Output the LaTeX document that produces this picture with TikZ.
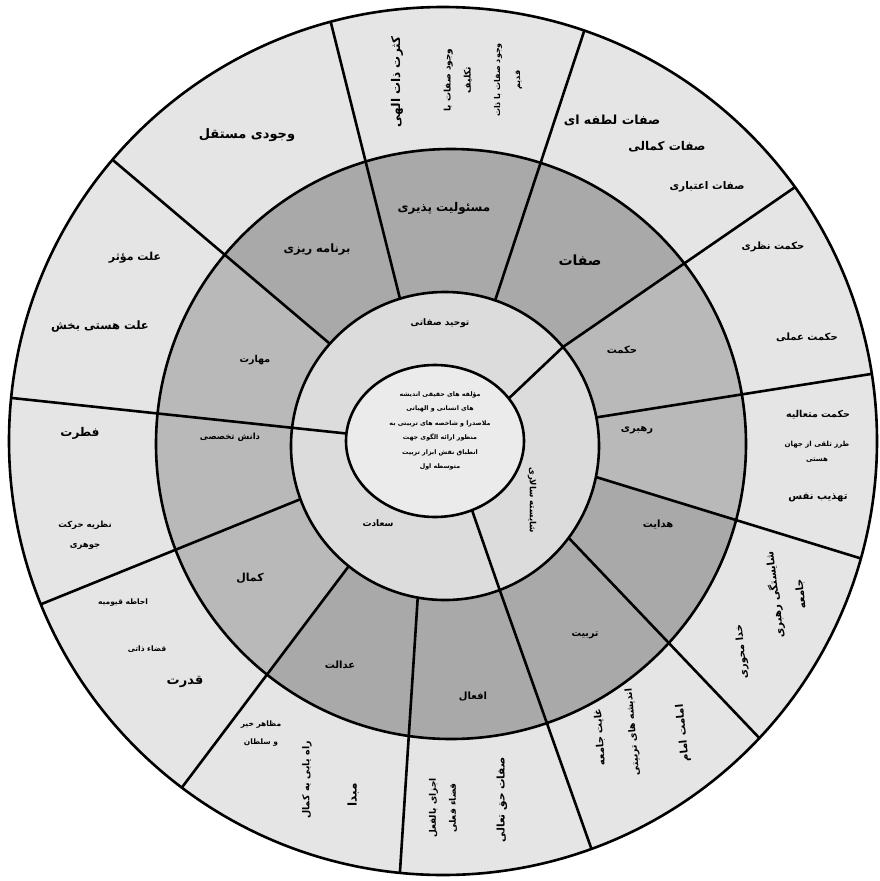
\documentclass[tikz,border=0pt]{standalone}
\usepackage{fontspec}
\usetikzlibrary{calc}
\TeXXeTstate=1
\newfontfamily\arabicfont[Script=Arabic]{DejaVu Sans}
\newcommand\fa[1]{\beginR #1\endR}
\definecolor{outerfill}{HTML}{E5E5E5}
\definecolor{middark}{HTML}{A9A9A9}
\definecolor{midlight}{HTML}{B9B9B9}
\definecolor{innerfill}{HTML}{DCDCDC}
\definecolor{centerfill}{HTML}{EBEBEB}
\begin{document}
\begin{tikzpicture}[x=1pt,y=1pt,
  bd/.style={draw=black,line width=2.6pt},
  lbl/.style 2 args={font=\arabicfont\bfseries\fontsize{#1}{#2}\selectfont,inner sep=0pt,align=center,text=black}]
\useasboundingbox (0,0) rectangle (879,-881);
\fill[white] (0,0) rectangle (879,-881);
\coordinate (C0) at (443,-441);
\coordinate (C1) at (451,-444);
\coordinate (C2) at (445,-446);
\coordinate (C3) at (435,-441);
\foreach \n/\ta/\tb in {a/107/105,b/71/71,c/40/35.8,d/10.7/8.9,e/-11.6/-15.7,f/-36.6/-43.2,g/-69.2/-70,h/-100.2/-95.7,i/-128.7/-127,j/-159.8/-157.9,k/173.2/174.3,l/138.4/139.6}{
  \coordinate (J\n) at ($(C2)+(\ta:154)$);
  \coordinate (O\n) at ($(C0)+(\tb:434)$);
}
% fills
\fill[outerfill] (C0) circle[radius=434];
\fill[middark] (C1) circle[radius=295];
\begin{scope}
  \clip (C1) circle[radius=295];
  \foreach \p/\q in {c/d,d/e,i/j,j/k,k/l}{
    \fill[midlight] (J\p) -- (O\p) -- (O\q) -- (J\q) -- cycle;
  }
\end{scope}
\fill[innerfill] (C2) circle[radius=154];
% circles and dividers
\draw[bd] (C0) circle[radius=434];
\draw[bd] (C1) circle[radius=295];
\draw[bd] (C2) circle[radius=154];
\foreach \n in {a,b,c,d,e,f,g,h,i,j,k,l}{\draw[bd] (J\n) -- (O\n);}
\coordinate (E1) at (505,-402);
\coordinate (E2) at (370,-436);
\coordinate (E3) at (465,-490);
\draw[bd] (Jc) -- (E1);
\draw[bd] (Jk) -- (E2);
\draw[bd] (Jg) -- (E3);
\fill[centerfill] (C3) ellipse[x radius=89,y radius=76];
\draw[bd] (C3) ellipse[x radius=89,y radius=76];
% centre text
\node[lbl={6.3}{14.5}] (core) at (440,-431) {\fa{مؤلفه های حقیقی اندیشه}\\\fa{های انسانی و الهیاتی}\\\fa{ملاصدرا و شاخصه های تربیتی به}\\\fa{منظور ارائه الگوی جهت}\\\fa{انطباق نقش ابزار تربیت}\\\fa{متوسطه اول}};
% inner ring
\node[lbl={9}{11}] (tw) at (440,-323) {\fa{توحید صفاتی}};
\node[lbl={9}{11}] (sa) at (378,-523) {\fa{سعادت}};
\node[lbl={8.5}{11},rotate=-90] (sh) at (532,-500) {\fa{شایسته سالاری}};
% middle ring
\node[lbl={12}{14}] (m1) at (444,-208) {\fa{مسئولیت پذیری}};
\node[lbl={14}{16}] (m2) at (580,-260) {\fa{صفات}};
\node[lbl={10}{12}] (m3) at (622,-350) {\fa{حکمت}};
\node[lbl={10}{12}] (m4) at (637,-430) {\fa{رهبری}};
\node[lbl={10}{12}] (m5) at (658,-525) {\fa{هدایت}};
\node[lbl={9.5}{12}] (m6) at (585,-635) {\fa{تربیت}};
\node[lbl={10}{12}] (m7) at (473,-697) {\fa{افعال}};
\node[lbl={10}{12}] (m8) at (340,-665) {\fa{عدالت}};
\node[lbl={11}{12}] (m9) at (250,-578) {\fa{کمال}};
\node[lbl={8.5}{12}] (m10) at (230,-437) {\fa{دانش تخصصی}};
\node[lbl={9.5}{12}] (m11) at (255,-360) {\fa{مهارت}};
\node[lbl={11.5}{14}] (m12) at (317,-250) {\fa{برنامه ریزی}};
% outer ring
\node[lbl={13}{15}] (o1) at (247,-135) {\fa{وجودی مستقل}};
\node[lbl={11}{13}] (o2) at (135,-258) {\fa{علت مؤثر}};
\node[lbl={11.5}{13}] (o3) at (100,-327) {\fa{علت هستی بخش}};
\node[lbl={12}{14}] (o4) at (80,-433) {\fa{فطرت}};
\node[lbl={8.5}{20}] (o5) at (85,-535) {\fa{نظریه حرکت}\\\fa{جوهری}};
\node[lbl={7.5}{10}] (o6) at (123,-603) {\fa{احاطه قیومیه}};
\node[lbl={7.5}{10}] (o7) at (147,-649) {\fa{قضاء ذاتی}};
\node[lbl={13}{15}] (o8) at (185,-682) {\fa{قدرت}};
\node[lbl={7.5}{18}] (o9) at (261,-734) {\fa{مظاهر خیر}\\\fa{و سلطان}};
\node[lbl={9.5}{12},rotate=90] (o10) at (307,-780) {\fa{راه یابی به کمال}};
\node[lbl={12}{14},rotate=90] (o11) at (353,-795) {\fa{مبدا}};
\node[lbl={9}{20},rotate=90] (o12) at (443,-808) {\fa{اجزای بالفعل}\\\fa{قضاء فعلی}};
\node[lbl={10.5}{12},rotate=90] (o13) at (502,-800) {\fa{صفات حق تعالی}};
\node[lbl={10}{12},rotate=94] (o14) at (600,-737) {\fa{غایت جامعه}};
\node[lbl={9.5}{12},rotate=95] (o15) at (633,-732) {\fa{اندیشه های تربیتی}};
\node[lbl={10.5}{12},rotate=96] (o16) at (683,-733) {\fa{امامت امام}};
\node[lbl={10}{12},rotate=96] (o17) at (742,-652) {\fa{خدا محوری}};
\node[lbl={10.5}{12},rotate=97] (o18) at (775,-595) {\fa{شایستگی رهبری}};
\node[lbl={10.5}{12},rotate=97] (o18b) at (801,-594) {\fa{جامعه}};
\node[lbl={9.5}{12}] (o19) at (818,-415) {\fa{حکمت متعالیه}};
\node[lbl={7}{15}] (o20) at (817,-452) {\fa{طرز تلقی از جهان}\\\fa{هستی}};
\node[lbl={10}{12}] (o21) at (818,-498) {\fa{تهذیب نفس}};
\node[lbl={10}{12}] (o22) at (773,-247) {\fa{حکمت نظری}};
\node[lbl={10}{12}] (o23) at (807,-337) {\fa{حکمت عملی}};
\node[lbl={12.5}{14}] (o24) at (612,-120) {\fa{صفات لطفه ای}};
\node[lbl={12}{14}] (o25) at (667,-147) {\fa{صفات کمالی}};
\node[lbl={10.5}{12}] (o26) at (707,-187) {\fa{صفات اعتباری}};
\node[lbl={12}{14},rotate=90] (o27) at (397,-82) {\fa{کثرت ذات الهی}};
\node[lbl={9}{20},rotate=90] (o28) at (458,-80) {\fa{وجود صفات با}\\\fa{تکلیف}};
\node[lbl={8}{20},rotate=90] (o29) at (508,-80) {\fa{وجود صفات با ذات}\\\fa{قدیم}};
\end{tikzpicture}
\end{document}
